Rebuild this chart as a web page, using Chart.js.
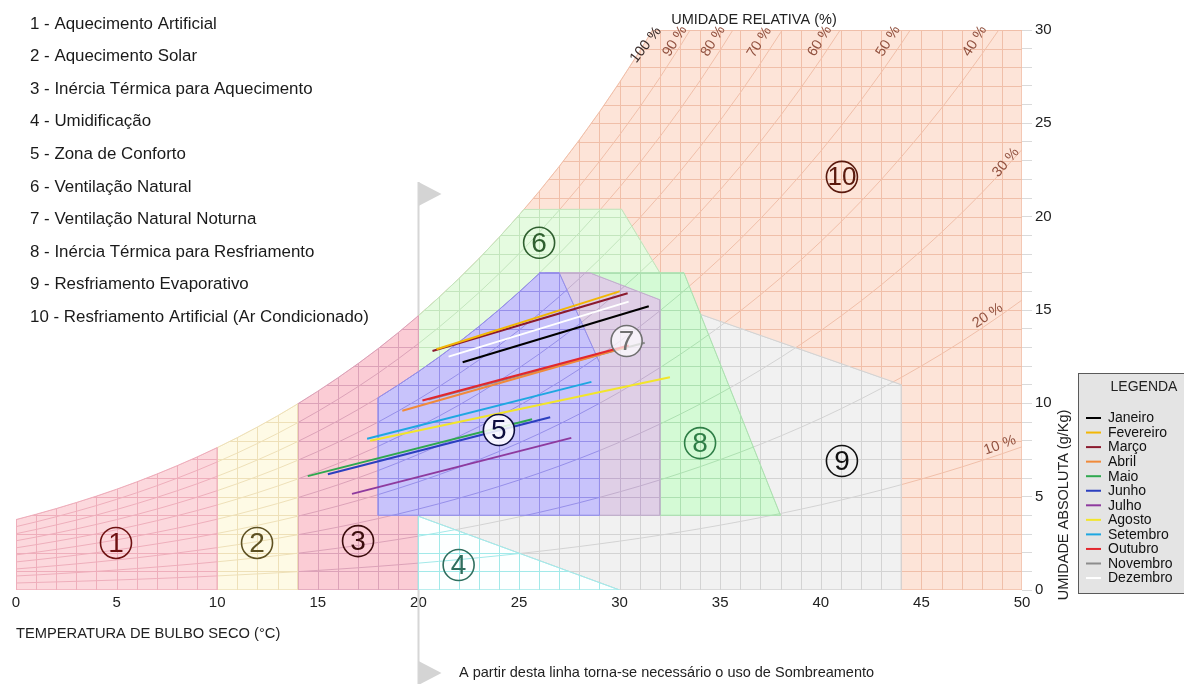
<!DOCTYPE html>
<html>
<head>
<meta charset="utf-8">
<title>Carta Bioclimática</title>
<script src="https://cdn.jsdelivr.net/npm/chart.js@4.4.1/dist/chart.umd.min.js"></script>
<style>
  html, body { margin: 0; padding: 0; background: #ffffff; }
  canvas { display: block; }
</style>
</head>
<body>
<canvas id="carta" width="1184" height="684"></canvas>
<script>
// ---- Monthly lines: (temperature °C, absolute humidity g/kg) at both ends ----
const MONTHS = ['Janeiro', 'Fevereiro', 'Março', 'Abril', 'Maio', 'Junho',
                'Julho', 'Agosto', 'Setembro', 'Outubro', 'Novembro', 'Dezembro'];
const MONTH_T_START = [22.2, 20.9, 20.7, 19.2, 14.5, 15.5, 16.7, 17.6, 17.45, 20.2, 20.5, 21.5];
const MONTH_W_START = [12.2, 12.9, 12.8, 9.6, 6.1, 6.2, 5.15, 8.0, 8.1, 10.15, 10.2, 12.5];
const MONTH_T_END   = [31.45, 30.0, 30.4, 30.3, 25.65, 26.55, 27.6, 32.5, 28.6, 30.45, 31.25, 30.45];
const MONTH_W_END   = [15.2, 16.0, 15.9, 13.0, 9.15, 9.25, 8.15, 11.4, 11.15, 13.1, 13.25, 15.45];
const MONTH_COLORS  = ['#000000', '#f2b705', '#8b1a2e', '#f08a3a', '#2fa84f', '#2b3fbf',
                       '#8e3a9e', '#f2e52a', '#1ea7e1', '#e3262d', '#8c8c8c', '#ffffff'];

// ---- Saturation vapour pressure (kPa), 0 to 50 °C in 1 °C steps ----
const P_SAT = [0.611, 0.657, 0.706, 0.758, 0.813, 0.872, 0.935, 1.002, 1.073, 1.148,
               1.228, 1.313, 1.403, 1.498, 1.599, 1.706, 1.819, 1.938, 2.064, 2.198,
               2.339, 2.488, 2.645, 2.810, 2.985, 3.169, 3.363, 3.567, 3.782, 4.008,
               4.246, 4.495, 4.758, 5.034, 5.323, 5.627, 5.945, 6.280, 6.630, 6.997,
               7.381, 7.784, 8.205, 8.646, 9.108, 9.590, 10.094, 10.620, 11.171, 11.745, 12.344];
const P_ATM = 101.325;

// ---- Relative humidity curves and their labels ----
const RH_CURVES = [10, 20, 30, 40, 50, 60, 70, 80, 90];
const RH_LABELS = ['100 %', '90 %', '80 %', '70 %', '60 %', '50 %', '40 %', '30 %', '20 %', '10 %'];
const RH_LABEL_T = [31.3, 32.75, 34.65, 36.95, 39.95, 43.35, 47.65, 49.2, 48.3, 48.9];
const RH_LABEL_W = [29.2, 29.4, 29.4, 29.35, 29.4, 29.4, 29.4, 22.9, 14.7, 7.75];
const RH_LABEL_ANGLE = [-52, -58, -58, -58, -58, -58, -58, -50, -34, -20];

// ---- Axis ticks ----
const T_TICKS = [0, 5, 10, 15, 20, 25, 30, 35, 40, 45, 50];
const W_TICKS = [0, 5, 10, 15, 20, 25, 30];

// ---- Bioclimatic zones ----
const ZONE_NAMES = [
  '1 - Aquecimento Artificial',
  '2 - Aquecimento Solar',
  '3 - Inércia Térmica para Aquecimento',
  '4 - Umidificação',
  '5 - Zona de Conforto',
  '6 - Ventilação Natural',
  '7 - Ventilação Natural Noturna',
  '8 - Inércia Térmica para Resfriamento',
  '9 - Resfriamento Evaporativo',
  '10 - Resfriamento Artificial (Ar Condicionado)'
];
// vertices [t, w]; ['sat', t0, t1] follows the saturation curve, ['rh', %, t0, t1] a humidity curve
const ZONE_1  = [[0, 0], [10, 0], ['sat', 10, 0]];
const ZONE_2  = [[10, 0], [14, 0], ['sat', 14, 10]];
const ZONE_3  = [[14, 0], [20, 0], ['sat', 20, 14]];
const ZONE_4  = [[20, 0], [30, 0], [20, 3.95]];
const ZONE_5  = [[18, 4], [29, 4], [29, 12.2], [27, 17], [26.04, 17], ['rh', 80, 26.04, 18]];
const ZONE_6  = [[20, 4], ['sat', 20, 25.24], [30.1, 20.4], [32, 17], [32, 4]];
const ZONE_7  = [[26.3, 17], [28.5, 17], [32, 15.55], [32, 4], [29, 4], [29, 12.2]];
const ZONE_8  = [[28.5, 17], [33.2, 17], [38, 4], [29, 4]];
const ZONE_9  = [[20, 3.95], [30, 0], [44, 0], [44, 11.0], [28.5, 16.85]];
const ZONE_10 = [[20, 0], [50, 0], [50, 30], ['sat', 31.63, 20]];
const ZONE_MARK_T = [4.97, 11.98, 17.0, 22.0, 24.0, 26.0, 30.35, 34.0, 41.05, 41.05];
const ZONE_MARK_W = [2.52, 2.52, 2.62, 1.34, 8.57, 18.6, 13.34, 7.87, 6.91, 22.13];

const FONT = "'Liberation Sans', Arial, Helvetica, sans-serif";

// layering of the zone areas, back to front (zone numbers)
const LAYERS = [10, 9, 6, 8, 7, 3, 5, 4, 2, 1];
const ZONE_SPECS  = [ZONE_1, ZONE_2, ZONE_3, ZONE_4, ZONE_5, ZONE_6, ZONE_7, ZONE_8, ZONE_9, ZONE_10];
const ZONE_FILL   = ['#fcd8dd', '#fefae5', '#fbccd5', '#fdffff', '#c8c3fb',
                     '#e5fbe0', '#dfcfe6', '#d4fad5', '#f1f1f1', '#fde4d8'];
const ZONE_GRID   = ['#eeaebb', '#eee0b8', '#dca2b8', '#a2e9e9', '#968fe9',
                     '#c3e5bd', '#c2aecd', '#ade0b1', '#d3d3d3', '#f0bfa9'];
const MARK_COLOR  = ['#6e1212', '#5e5122', '#3a0c0c', '#2f6e5e', '#0e0e3e',
                     '#2f5f2f', '#707070', '#2e7e46', '#111111', '#5a1a0e'];
const MARK_BG     = [null, null, null, null, 'rgba(255,255,255,0.85)',
                     null, 'rgba(255,255,255,0.7)', null, null, null];

// humidity ratio (g/kg) at temperature t and relative humidity rh
function pSat(t) {
  const i = Math.max(0, Math.min(Math.floor(t), P_SAT.length - 2));
  return P_SAT[i] + (P_SAT[i + 1] - P_SAT[i]) * (t - i);
}
function wAt(t, rh) {
  const p = pSat(t) * rh / 100;
  return 622 * p / (P_ATM - p);
}

function buildPolygon(spec) {
  const pts = [];
  spec.forEach(v => {
    if (v[0] === 'sat' || v[0] === 'rh') {
      const rh = v[0] === 'sat' ? 100 : v[1];
      const a = v[0] === 'sat' ? v[1] : v[2];
      const b = v[0] === 'sat' ? v[2] : v[3];
      const dir = b > a ? 1 : -1;
      pts.push({ x: a, y: wAt(a, rh) });
      let t = dir > 0 ? Math.floor(a) + 1 : Math.ceil(a) - 1;
      while (dir > 0 ? t < b : t > b) { pts.push({ x: t, y: wAt(t, rh) }); t += dir; }
      pts.push({ x: b, y: wAt(b, rh) });
    } else {
      pts.push({ x: v[0], y: v[1] });
    }
  });
  pts.push({ x: pts[0].x, y: pts[0].y });
  return pts;
}

const datasets = [];
LAYERS.forEach((zone, k) => {
  const i = zone - 1;
  datasets.push({
    label: ZONE_NAMES[i],
    data: buildPolygon(ZONE_SPECS[i]),
    fill: 'shape',
    backgroundColor: ZONE_FILL[i],
    borderColor: ZONE_GRID[i],
    borderWidth: 1,
    pointRadius: 0,
    tension: 0,
    order: 100 - k,
    zoneGrid: ZONE_GRID[i]
  });
});
MONTHS.forEach((m, i) => {
  datasets.push({
    label: m,
    data: [{ x: MONTH_T_START[i], y: MONTH_W_START[i] }, { x: MONTH_T_END[i], y: MONTH_W_END[i] }],
    borderColor: MONTH_COLORS[i],
    backgroundColor: MONTH_COLORS[i],
    borderWidth: 2,
    pointRadius: 0,
    fill: false,
    order: m === 'Outubro' ? 0 : 1
  });
});

// grid and humidity curves, drawn inside each zone in the zone's own tint
const zoneGridPlugin = {
  id: 'zoneGrid',
  afterDatasetDraw(chart, args) {
    const ds = chart.data.datasets[args.index];
    if (!ds.zoneGrid) return;
    const { ctx, chartArea: a, scales: { x, y } } = chart;
    const pts = args.meta.data;
    ctx.save();
    ctx.beginPath();
    ctx.rect(a.left, a.top, a.right - a.left, a.bottom - a.top);
    ctx.clip();
    ctx.beginPath();
    pts.forEach((p, i) => (i ? ctx.lineTo(p.x, p.y) : ctx.moveTo(p.x, p.y)));
    ctx.closePath();
    ctx.clip();
    ctx.strokeStyle = ds.zoneGrid;
    ctx.lineWidth = 1;
    ctx.beginPath();
    for (let t = 0; t <= 50; t++) {
      const px = Math.round(x.getPixelForValue(t)) + 0.5;
      ctx.moveTo(px, a.top); ctx.lineTo(px, a.bottom);
    }
    for (let w = 0; w <= 30; w++) {
      const py = Math.round(y.getPixelForValue(w)) + 0.5;
      ctx.moveTo(a.left, py); ctx.lineTo(a.right, py);
    }
    ctx.stroke();
    ctx.beginPath();
    RH_CURVES.forEach(rh => {
      for (let t = 0; t <= 50; t++) {
        const px = x.getPixelForValue(t), py = y.getPixelForValue(wAt(t, rh));
        t ? ctx.lineTo(px, py) : ctx.moveTo(px, py);
      }
    });
    ctx.stroke();
    ctx.beginPath();
    pts.forEach((p, i) => (i ? ctx.lineTo(p.x, p.y) : ctx.moveTo(p.x, p.y)));
    ctx.stroke();
    ctx.restore();
  }
};

// shading limit line at 20 °C with its two arrow heads
const shadingPlugin = {
  id: 'shadingLine',
  beforeDatasetsDraw(chart) {
    const { ctx, scales: { x } } = chart;
    const px = Math.round(x.getPixelForValue(20)) + 0.5;
    ctx.save();
    ctx.strokeStyle = '#d6d6d6';
    ctx.lineWidth = 2;
    ctx.beginPath(); ctx.moveTo(px, 182); ctx.lineTo(px, 684); ctx.stroke();
    ctx.fillStyle = '#d4d4d4';
    [[182, 206], [661, 685]].forEach(([t0, t1]) => {
      ctx.beginPath();
      ctx.moveTo(px, t0); ctx.lineTo(px, t1); ctx.lineTo(px + 23, (t0 + t1) / 2); ctx.closePath();
      ctx.fill();
    });
    ctx.restore();
  }
};

// labels, zone marks, legend and captions
const annotationPlugin = {
  id: 'annotations',
  afterDraw(chart) {
    const { ctx, scales: { x, y } } = chart;
    ctx.save();

    // humidity curve labels
    ctx.font = `14.5px ${FONT}`;
    ctx.textAlign = 'center';
    ctx.textBaseline = 'middle';
    RH_LABELS.forEach((lab, i) => {
      ctx.save();
      ctx.translate(x.getPixelForValue(RH_LABEL_T[i]), y.getPixelForValue(RH_LABEL_W[i]));
      ctx.rotate(RH_LABEL_ANGLE[i] * Math.PI / 180);
      ctx.fillStyle = i === 0 ? '#3a2c2a' : '#91513f';
      ctx.fillText(lab, 0, 0);
      ctx.restore();
    });
    ctx.fillStyle = '#222';
    ctx.fillText('UMIDADE RELATIVA (%)', 754, 20);

    // circled zone numbers
    ZONE_MARK_T.forEach((t, i) => {
      const cx = x.getPixelForValue(t), cy = y.getPixelForValue(ZONE_MARK_W[i]);
      ctx.beginPath();
      ctx.arc(cx, cy, 15.5, 0, Math.PI * 2);
      if (MARK_BG[i]) { ctx.fillStyle = MARK_BG[i]; ctx.fill(); }
      ctx.strokeStyle = MARK_COLOR[i];
      ctx.lineWidth = 1.6;
      ctx.stroke();
      ctx.fillStyle = MARK_COLOR[i];
      ctx.font = `${i === 9 ? 26 : 28}px ${FONT}`;
      ctx.fillText(String(i + 1), cx, cy + 1);
    });

    // zone list
    ctx.textAlign = 'left';
    ctx.fillStyle = '#1a1a1a';
    ctx.font = `16.9px ${FONT}`;
    ZONE_NAMES.forEach((n, i) => ctx.fillText(n, 30, 24 + i * 32.6));

    // axis titles and note
    ctx.font = `14.7px ${FONT}`;
    ctx.fillStyle = '#222';
    ctx.fillText('TEMPERATURA DE BULBO SECO (°C)', 16, 634);
    ctx.font = `14.5px ${FONT}`;
    ctx.fillText('A partir desta linha torna-se necessário o uso de Sombreamento', 459, 673);
    ctx.save();
    ctx.translate(1064, 505);
    ctx.rotate(-Math.PI / 2);
    ctx.textAlign = 'center';
    ctx.fillText('UMIDADE ABSOLUTA (g/Kg)', 0, 0);
    ctx.restore();

    // legend box
    ctx.fillStyle = '#e4e4e4';
    ctx.fillRect(1078, 373, 112, 220);
    ctx.strokeStyle = '#5a5a5a';
    ctx.lineWidth = 1;
    ctx.strokeRect(1078.5, 373.5, 112, 220);
    ctx.fillStyle = '#222';
    ctx.font = `14px ${FONT}`;
    ctx.textAlign = 'center';
    ctx.fillText('LEGENDA', 1144, 387);
    ctx.textAlign = 'left';
    chart.data.datasets.filter(d => !d.zoneGrid).forEach((d, i) => {
      const ly = 418 + i * 14.55;
      ctx.strokeStyle = d.borderColor;
      ctx.lineWidth = 2;
      ctx.beginPath(); ctx.moveTo(1086, ly); ctx.lineTo(1101, ly); ctx.stroke();
      ctx.fillStyle = '#111';
      ctx.fillText(d.label, 1108, ly + 0.5);
    });
    ctx.restore();
  }
};

new Chart(document.getElementById('carta'), {
  type: 'line',
  data: { datasets },
  options: {
    responsive: false,
    animation: false,
    events: [],
    layout: { padding: { top: 30, left: 16, right: 0, bottom: 0 } },
    plugins: { legend: { display: false }, tooltip: { enabled: false }, title: { display: false } },
    elements: { point: { radius: 0 }, line: { tension: 0 } },
    scales: {
      x: {
        type: 'linear', min: 0, max: 50,
        afterBuildTicks: s => { s.ticks = T_TICKS.map(v => ({ value: v })); },
        ticks: { color: '#222', font: { family: FONT, size: 15 }, padding: 4, maxRotation: 0, autoSkip: false },
        grid: { display: false, drawTicks: false },
        border: { display: false },
        afterFit: s => { s.height = 94; }
      },
      y: {
        type: 'linear', position: 'right', min: 0, max: 30,
        ticks: {
          stepSize: 1, autoSkip: false, color: '#222', padding: 3,
          font: { family: FONT, size: 15 },
          callback: v => (W_TICKS.includes(v) ? String(v) : '')
        },
        grid: { drawOnChartArea: false, drawTicks: true, tickLength: 10, color: '#dadada' },
        border: { display: false },
        afterFit: s => { s.width = 162; }
      }
    }
  },
  plugins: [shadingPlugin, zoneGridPlugin, annotationPlugin]
});
</script>
</body>
</html>
